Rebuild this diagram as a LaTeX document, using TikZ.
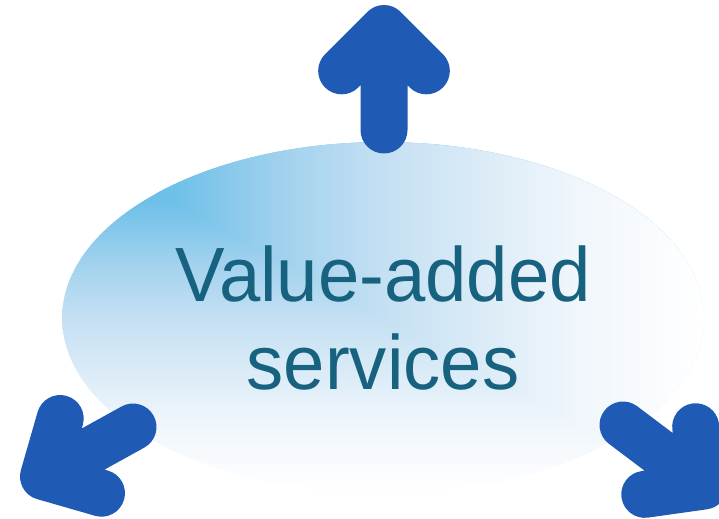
\documentclass[tikz,border=0pt]{standalone}
\usepackage{fontspec}
\setmainfont{Liberation Sans}
\newfontfamily\bubblefont[FakeStretch=0.965]{Liberation Sans}
\usetikzlibrary{shapes.geometric,calc}

\definecolor{arrowblue}{HTML}{1F5BB5}
\definecolor{textteal}{HTML}{16627F}
\definecolor{vsA}{HTML}{5DBAE8}
\definecolor{vsB}{HTML}{6EC0E9}
\definecolor{vsC}{HTML}{A3D2EE}
\definecolor{vsD}{HTML}{C4E0F3}
\definecolor{vsE}{HTML}{DAEBF7}
\definecolor{vsF}{HTML}{F0F6FC}

\pgfdeclarehorizontalshading{vasH}{100bp}{color(0bp)=(vsA); color(25bp)=(vsA);
  color(33.5bp)=(vsB); color(42.5bp)=(vsC); color(50bp)=(vsD); color(57.5bp)=(vsE);
  color(65bp)=(vsF); color(75bp)=(white); color(100bp)=(white)}
\pgfdeclareverticalshading{vasV}{100bp}{color(0bp)=(white); color(25bp)=(white);
  color(35bp)=(vsF); color(42.5bp)=(vsE); color(50bp)=(vsD); color(57.5bp)=(vsC);
  color(66.5bp)=(vsB); color(75bp)=(vsA); color(100bp)=(vsA)}

\begin{document}
\begin{tikzpicture}[x=0.02cm, y=-0.02cm,
            bigarrow/.style={draw=arrowblue, line width=0.94cm, line cap=round, line join=round},
            bubble/.style={ellipse, inner sep=0pt, minimum width=12.84cm, minimum height=7.04cm,
                text=textteal, align=center, font=\bubblefont\fontsize{43.8}{50}\selectfont,
                path picture={
                  \shade[shading=vasV] (path picture bounding box.south west) rectangle (path picture bounding box.north east);
                  \begin{scope}
                    \clip (path picture bounding box.north west) -- (path picture bounding box.north east)
                          -- (path picture bounding box.south east) -- cycle;
                    \shade[shading=vasH] (path picture bounding box.south west) rectangle (path picture bounding box.north east);
                  \end{scope}}}]
        \clip (0,0) rectangle (719,519);

        \node[bubble] (vas) at (383,318) {Value-added\\services};

        % arrow ends
        \coordinate (up tail) at (384,130);
        \coordinate (up tip) at (384,28.5);
        \coordinate (left tail) at (133,427);
        \coordinate (left tip) at (43.5,476.5);
        \coordinate (right tail) at (623,425);
        \coordinate (right tip) at (704,486);

        \foreach \a in {up,left,right}
          \draw[bigarrow] (\a\space tail) -- (\a\space tip)
            ($(\a\space tip)!0.59!45:(\a\space tail)$) -- (\a\space tip) -- ($(\a\space tip)!0.59!-45:(\a\space tail)$);
\end{tikzpicture}
\end{document}
